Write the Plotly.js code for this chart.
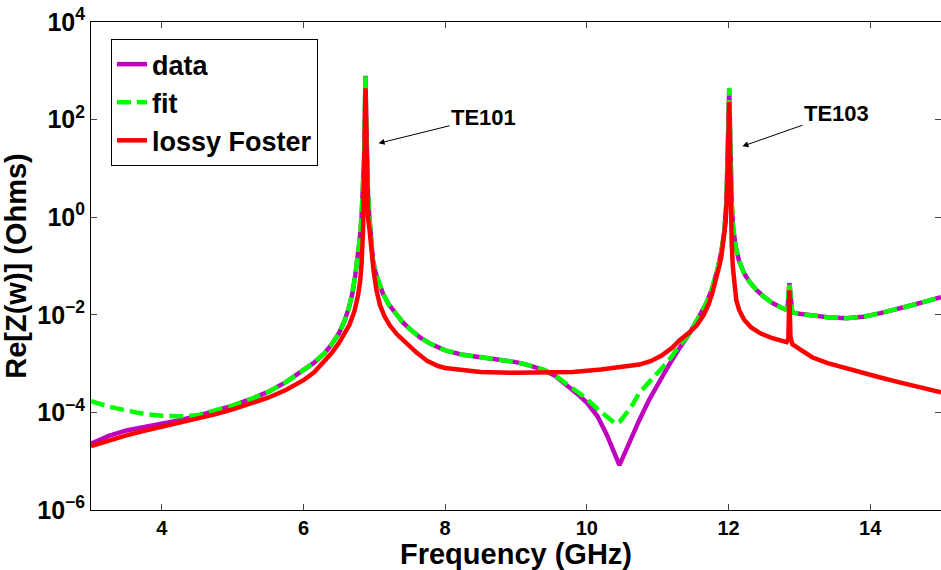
<!DOCTYPE html>
<html>
<head>
<meta charset="utf-8">
<script src="https://cdn.plot.ly/plotly-3.0.1.min.js"></script>
<style>html,body{margin:0;padding:0;background:#fff;}#chart{width:941px;height:570px;}</style>
</head>
<body>
<div id="chart"></div>
<script>
// Frequency grid (GHz) shared by "data" and "fit"
const freq = [
  3.0,3.25,3.5,3.75,4.0,4.25,4.5,4.75,5.0,5.25,
  5.5,5.75,6.0,6.15,6.3,6.4,6.5,6.58,6.64,6.69,
  6.73,6.76,6.79,6.82,6.84,6.855,6.865,6.875,6.885,6.895,
  6.91,6.93,6.955,6.98,7.02,7.07,7.12,7.2,7.3,7.4,
  7.5,7.65,7.8,8.0,8.25,8.5,8.75,9.0,9.2,9.4,
  9.55,9.7,9.85,10.0,10.15,10.28,10.38,10.41,10.46,10.54,
  10.63,10.74,10.88,11.03,11.15,11.3,11.45,11.58,11.68,11.76,
  11.84,11.9,11.94,11.97,11.99,12.0,12.01,12.02,12.03,12.045,
  12.065,12.1,12.15,12.22,12.3,12.4,12.5,12.6,12.7,12.8,
  12.835,12.85,12.86,12.87,12.88,12.9,13.0,13.2,13.4,13.66,
  13.9,14.13,14.4,14.6,14.8,15.0];
// log10 of Re[Z(w)] (Ohms) for "data"
const logData = [
  -4.64,-4.48,-4.37,-4.30,-4.24,-4.16,-4.07,-3.97,-3.86,-3.73,
  -3.58,-3.38,-3.14,-2.98,-2.78,-2.6,-2.38,-2.12,-1.86,-1.56,
  -1.2,-0.88,-0.5,0.0,0.5,1.2,2.0,2.9,2.0,1.2,
  0.5,0.0,-0.5,-0.88,-1.15,-1.38,-1.56,-1.78,-1.98,-2.15,
  -2.29,-2.47,-2.6,-2.73,-2.82,-2.87,-2.92,-2.97,-3.04,-3.14,
  -3.25,-3.42,-3.6,-3.8,-4.08,-4.45,-4.8,-4.93,-5.08,-4.82,
  -4.5,-4.16,-3.74,-3.35,-3.05,-2.7,-2.38,-2.05,-1.78,-1.5,
  -1.1,-0.7,-0.3,0.3,1.2,1.9,2.62,1.9,1.1,0.3,
  -0.2,-0.6,-0.9,-1.15,-1.33,-1.5,-1.63,-1.74,-1.82,-1.89,
  -1.85,-1.6,-1.35,-1.5,-1.8,-1.95,-1.98,-2.02,-2.05,-2.07,
  -2.04,-1.97,-1.88,-1.8,-1.72,-1.64];
// log10 of Re[Z(w)] (Ohms) for "fit"
const logFit = [
  -3.77,-3.88,-3.96,-4.03,-4.07,-4.08,-4.06,-3.97,-3.86,-3.73,
  -3.58,-3.38,-3.14,-2.98,-2.78,-2.6,-2.38,-2.12,-1.86,-1.56,
  -1.2,-0.88,-0.5,0.0,0.5,1.2,2.0,2.93,2.0,1.2,
  0.5,0.0,-0.5,-0.88,-1.15,-1.38,-1.56,-1.78,-1.98,-2.15,
  -2.29,-2.47,-2.6,-2.73,-2.82,-2.87,-2.92,-2.97,-3.04,-3.13,
  -3.24,-3.4,-3.55,-3.72,-3.93,-4.1,-4.2,-4.23,-4.2,-4.05,
  -3.88,-3.6,-3.38,-3.15,-2.95,-2.65,-2.38,-2.05,-1.78,-1.5,
  -1.1,-0.7,-0.3,0.3,1.2,1.9,2.65,1.9,1.1,0.3,
  -0.2,-0.6,-0.9,-1.15,-1.33,-1.5,-1.63,-1.74,-1.82,-1.89,
  -1.85,-1.6,-1.33,-1.5,-1.8,-1.95,-1.98,-2.02,-2.05,-2.07,
  -2.04,-1.97,-1.88,-1.8,-1.72,-1.64];

// Frequency grid (GHz) and log10 Re[Z(w)] for "lossy Foster"
const freqFoster = [
  3.0,3.25,3.5,3.75,4.0,4.25,4.5,4.75,5.0,5.25,
  5.5,5.75,6.0,6.15,6.3,6.4,6.5,6.58,6.65,6.72,
  6.77,6.8,6.82,6.84,6.855,6.865,6.875,6.885,6.895,6.91,
  6.935,6.96,6.99,7.03,7.08,7.14,7.22,7.32,7.45,7.6,
  7.75,7.9,8.0,8.25,8.5,9.0,9.5,9.8,10.2,10.46,
  10.74,10.9,11.05,11.2,11.31,11.45,11.55,11.65,11.72,11.77,
  11.83,11.87,11.9,11.93,11.96,11.985,12.0,12.01,12.02,12.03,
  12.045,12.06,12.08,12.11,12.15,12.22,12.32,12.45,12.62,12.75,
  12.82,12.845,12.855,12.86,12.865,12.875,12.9,13.0,13.18,13.4,
  13.66,13.9,14.13,14.4,14.6,14.8,15.0];
const logFoster = [
  -4.69,-4.57,-4.47,-4.38,-4.30,-4.21,-4.12,-4.04,-3.94,-3.83,
  -3.70,-3.54,-3.34,-3.18,-2.95,-2.78,-2.58,-2.4,-2.2,-1.92,
  -1.6,-1.3,-0.95,-0.3,0.5,1.5,2.64,1.5,0.6,0.0,
  -0.3,-0.7,-1.1,-1.5,-1.8,-2.02,-2.22,-2.4,-2.58,-2.78,
  -2.95,-3.05,-3.09,-3.14,-3.17,-3.19,-3.19,-3.17,-3.12,-3.08,
  -3.02,-2.95,-2.84,-2.68,-2.52,-2.36,-2.22,-2.0,-1.78,-1.56,
  -1.25,-1.0,-0.8,-0.5,-0.1,0.7,1.6,2.36,1.4,0.3,
  -0.5,-1.0,-1.4,-1.7,-1.9,-2.1,-2.26,-2.38,-2.48,-2.53,
  -2.56,-2.5,-1.9,-1.5,-1.9,-2.45,-2.6,-2.7,-2.87,-2.99,
  -3.10,-3.2,-3.28,-3.38,-3.45,-3.52,-3.59];

const seriesNames = ["data","fit","lossy Foster"];
const xTicks = [4,6,8,10,12,14];
const yTicks = [1e-6,1e-4,1e-2,1,1e2,1e4];
const yTickText = ["10<sup>\u22126</sup>","10<sup>\u22124</sup>","10<sup>\u22122</sup>","10<sup>0</sup>","10<sup>2</sup>","10<sup>4</sup>"];
const xTitle = "Frequency (GHz)";
const yTitle = "Re[Z(w)] (Ohms)";
const peakLabels = ["TE101","TE103"];

const toOhms = arr => arr.map(v => Math.pow(10, v));
const FONT = "Liberation Sans, Arial, Helvetica, sans-serif";

const traces = [
  {x: freq, y: toOhms(logData), name: seriesNames[0], mode: "lines",
   line: {color: "#BF00BF", width: 4.5}},
  {x: freq, y: toOhms(logFit), name: seriesNames[1], mode: "lines",
   line: {color: "#00FF00", width: 4.5, dash: "14px,6px"}},
  {x: freqFoster, y: toOhms(logFoster), name: seriesNames[2], mode: "lines",
   line: {color: "#FF0000", width: 4.5}}
];

const layout = {
  width: 941, height: 570,
  margin: {l: 91, r: 0, t: 22, b: 60, pad: 0},
  paper_bgcolor: "#fff", plot_bgcolor: "#fff",
  showlegend: true,
  legend: {
    x: 0.0235, y: 0.965, xanchor: "left", yanchor: "top",
    bgcolor: "#fff", bordercolor: "#000", borderwidth: 1,
    font: {family: FONT, size: 27, color: "#000", weight: "bold"},
    itemwidth: 30, tracegroupgap: 0
  },
  xaxis: {
    range: [3, 15], tickvals: xTicks, ticktext: xTicks.map(String),
    showgrid: false, zeroline: false, showline: true, linecolor: "#000", linewidth: 1,
    mirror: "ticks", ticks: "inside", ticklen: 6, tickcolor: "#444",
    tickfont: {family: FONT, size: 20, color: "#000", weight: "bold"},
    title: {text: xTitle, font: {family: FONT, size: 29, color: "#000", weight: "bold"}, standoff: 0}
  },
  yaxis: {
    type: "log", range: [-6, 4], tickvals: yTicks, ticktext: yTickText,
    showgrid: false, zeroline: false, showline: true, linecolor: "#000", linewidth: 1,
    mirror: "ticks", ticks: "inside", ticklen: 6, tickcolor: "#444",
    tickfont: {family: FONT, size: 25, color: "#000", weight: "bold"},
    title: {text: yTitle, font: {family: FONT, size: 29, color: "#000", weight: "bold"}, standoff: 2}
  },
  annotations: [
    {x: 7.06, y: 1.514, xref: "x", yref: "y", text: peakLabels[0], showarrow: true,
     ax: 105, ay: -26, arrowhead: 2, arrowsize: 1.2, arrowwidth: 1, arrowcolor: "#000",
     font: {family: FONT, size: 22, color: "#000", weight: "bold"}},
    {x: 12.196, y: 1.453, xref: "x", yref: "y", text: peakLabels[1], showarrow: true,
     ax: 94, ay: -33, arrowhead: 2, arrowsize: 1.2, arrowwidth: 1, arrowcolor: "#000",
     font: {family: FONT, size: 22, color: "#000", weight: "bold"}}
  ]
};

Plotly.newPlot("chart", traces, layout, {displayModeBar: false, staticPlot: true});
</script>
</body>
</html>
